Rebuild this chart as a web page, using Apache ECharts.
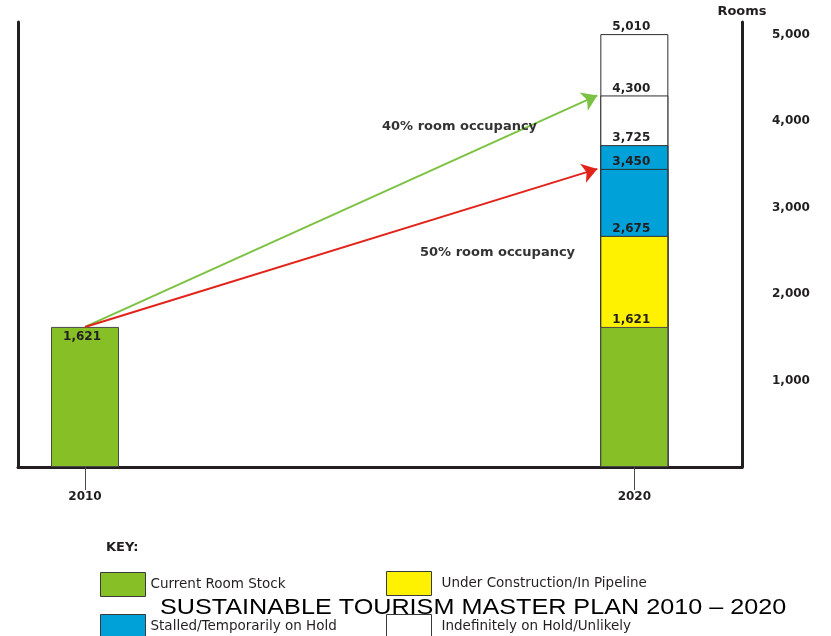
<!DOCTYPE html>
<html>
<head>
<meta charset="utf-8">
<title>Room stock 2010 – 2020</title>
<script src="https://cdn.jsdelivr.net/npm/echarts@6.0.0/dist/echarts.min.js"></script>
<style>
  html, body { margin: 0; padding: 0; background: #ffffff; }
  #chart { width: 831px; height: 636px; }
</style>
</head>
<body>
<div id="chart"></div>
<script>
// ---- data ----
const years = [2010, 2020];
const currentStock = [1621, 1621];
// cumulative room totals in 2020, bottom to top of the column
const levels2020 = [1621, 2675, 3450, 3725, 4300, 5010];
const levelGroups2020 = [
  'Current Room Stock',
  'Under Construction/In Pipeline',
  'Stalled/Temporarily on Hold',
  'Stalled/Temporarily on Hold',
  'Indefinitely on Hold/Unlikely',
  'Indefinitely on Hold/Unlikely'
];
const keyNames = [
  'Current Room Stock',
  'Under Construction/In Pipeline',
  'Stalled/Temporarily on Hold',
  'Indefinitely on Hold/Unlikely'
];
const yTicks = [1000, 2000, 3000, 4000, 5000];
const occupancyNames = ['40% room occupancy', '50% room occupancy'];
const occupancyLevels = [4300, 3450];
const titleText = 'SUSTAINABLE TOURISM MASTER PLAN 2010 – 2020';

// ---- styling ----
const keyColors = {
  'Current Room Stock': '#86bf26',
  'Under Construction/In Pipeline': '#fff200',
  'Stalled/Temporarily on Hold': '#00a0d8',
  'Indefinitely on Hold/Unlikely': '#ffffff'
};
const arrowColors = ['#7cc242', '#e2231a'];
const ink = '#231f20';
const boldFont = 'DejaVu Sans';
const grid = { left: 18, right: 89, top: 22, bottom: 169 };
const chartWidth = 831;
const xMin = 2008.78, xMax = 2021.96;
const yMax = 5150;
const barWidth = 68;

const fmt = v => Number(v).toLocaleString('en-US');

const pxPerYear = (chartWidth - grid.left - grid.right) / (xMax - xMin);
const arrowTipX = years[1] - (barWidth / 2 + 3) / pxPerYear;

const labelStyle = {
  show: true,
  color: ink,
  fontFamily: boldFont,
  fontWeight: 'bold',
  fontSize: 12,
  offset: [-3, 0],
  formatter: p => fmt(p.value[1])
};

// Each 2020 column reaches its own cumulative total; taller columns are
// drawn first so every lower level sits in front and its top edge marks
// the boundary between bands.
const series = [];
for (let k = levels2020.length - 1; k >= 1; k--) {
  const group = levelGroups2020[k];
  series.push({
    type: 'bar',
    name: group,
    barWidth: barWidth,
    barGap: '-100%',
    itemStyle: { color: keyColors[group], borderColor: '#2e2e2e', borderWidth: 1 },
    label: Object.assign({}, labelStyle, { position: 'top', distance: 1 }),
    data: [[years[1], levels2020[k]]]
  });
}

// current stock, both years (front-most)
series.push({
  type: 'bar',
  name: levelGroups2020[0],
  barWidth: barWidth,
  barGap: '-100%',
  itemStyle: { color: keyColors[levelGroups2020[0]], borderColor: '#4a4a4a', borderWidth: 1 },
  label: labelStyle,
  data: years.map((yr, i) => ({
    value: [yr, currentStock[i]],
    label: i === 0 ? { position: 'insideTop', distance: 4 } : { position: 'top', distance: 1 }
  }))
});

// occupancy arrows from today's stock to the rooms needed in 2020
series.push({
  type: 'line',
  name: 'occupancy',
  data: [],
  markLine: {
    silent: true,
    symbol: ['none', 'arrow'],
    symbolSize: 15,
    label: { show: false },
    data: occupancyLevels.map((lvl, i) => [
      { coord: [years[0], currentStock[0]], lineStyle: { color: arrowColors[i], width: 2, type: 'solid' }, itemStyle: { color: arrowColors[i] } },
      { coord: [arrowTipX, lvl] }
    ])
  }
});

function keyLegend(name, left, top) {
  return {
    show: true,
    data: [name],
    left: left,
    top: top,
    padding: 0,
    icon: 'rect',
    itemWidth: 45,
    itemHeight: 24,
    selectedMode: false,
    itemStyle: { borderColor: '#3a3a3a', borderWidth: 1 },
    textStyle: { color: ink, fontFamily: 'DejaVu Sans', fontSize: 13.5, padding: [0, 0, 0, left > 200 ? 5 : 0] }
  };
}

const option = {
  animation: false,
  backgroundColor: '#ffffff',
  grid: grid,
  xAxis: {
    type: 'value',
    min: xMin,
    max: xMax,
    splitLine: { show: false },
    axisLine: { show: true, onZero: false, lineStyle: { color: ink, width: 3 } },
    axisTick: { show: true, customValues: years, length: 23, lineStyle: { color: '#4a4a4a', width: 1 } },
    axisLabel: {
      customValues: years,
      formatter: v => String(v),
      margin: 24,
      color: ink,
      fontFamily: boldFont,
      fontWeight: 'bold',
      fontSize: 12
    }
  },
  yAxis: [
    {
      type: 'value',
      position: 'right',
      min: 0,
      max: yMax,
      interval: 1000,
      name: 'Rooms',
      nameLocation: 'end',
      nameGap: 4,
      nameTextStyle: { color: ink, fontFamily: boldFont, fontWeight: 'bold', fontSize: 13, align: 'center' },
      splitLine: { show: false },
      axisTick: { show: false },
      axisLine: { show: true, lineStyle: { color: ink, width: 3 } },
      axisLabel: {
        customValues: yTicks,
        margin: 30,
        color: ink,
        fontFamily: boldFont,
        fontWeight: 'bold',
        fontSize: 12,
        formatter: v => fmt(v)
      }
    },
    {
      type: 'value',
      position: 'left',
      min: 0,
      max: yMax,
      splitLine: { show: false },
      axisTick: { show: false },
      axisLabel: { show: false },
      axisLine: { show: true, lineStyle: { color: ink, width: 3 } }
    }
  ],
  legend: [
    keyLegend(keyNames[0], 100, 572),
    keyLegend(keyNames[1], 386, 571),
    keyLegend(keyNames[2], 100, 614),
    keyLegend(keyNames[3], 386, 614)
  ],
  graphic: [
    {
      type: 'text', left: 382, top: 120, z: 50,
      style: { text: occupancyNames[0], fill: '#333333', font: 'bold 13px "DejaVu Sans"' }
    },
    {
      type: 'text', left: 420, top: 246, z: 50,
      style: { text: occupancyNames[1], fill: '#333333', font: 'bold 13px "DejaVu Sans"' }
    },
    {
      type: 'text', left: 106, top: 541, z: 50,
      style: { text: 'KEY:', fill: ink, font: 'bold 13px "DejaVu Sans"' }
    },
    {
      type: 'text', x: 160, y: 608, z: 100, scaleX: 1.145,
      style: { text: titleText, fill: '#000000', font: '22px "Liberation Sans"', verticalAlign: 'middle', align: 'left' }
    }
  ],
  series: series
};

const chart = echarts.init(document.getElementById('chart'), null, { renderer: 'canvas' });
chart.setOption(option);
</script>
</body>
</html>
